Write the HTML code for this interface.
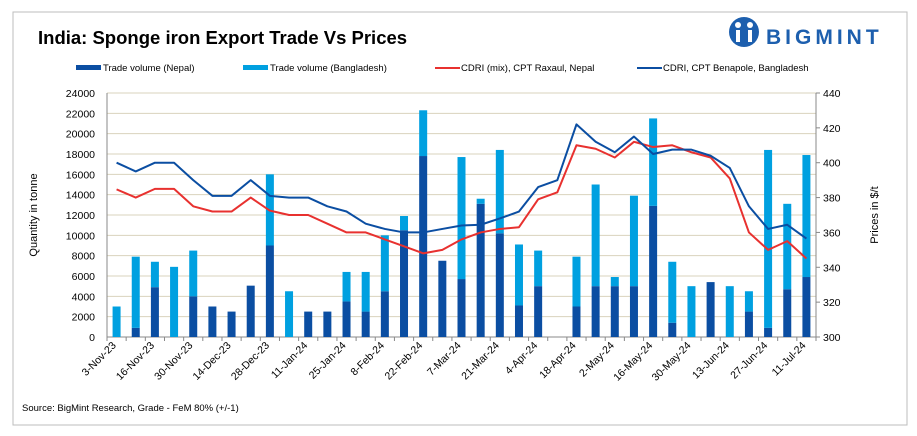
<!DOCTYPE html>
<html><head><meta charset="utf-8">
<style>
body{margin:0;background:#fff;font-family:"Liberation Sans",sans-serif;}
#wrap{position:relative;width:917px;height:436px;overflow:hidden;}
</style></head>
<body>
<div id="wrap">
<svg id="chart" width="917" height="436" xmlns="http://www.w3.org/2000/svg">
<rect x="13" y="12" width="894" height="413" fill="#fff" stroke="#bdbdbd"/>
<text x="38" y="44" font-size="18.5" font-weight="bold" fill="#000">India: Sponge iron Export Trade Vs Prices</text>
<g>
<circle cx="744" cy="32" r="15" fill="#1d5fae"/>
<circle cx="738" cy="25" r="3" fill="#fff"/><circle cx="750" cy="25" r="3" fill="#fff"/>
<rect x="736" y="30" width="4" height="12" fill="#fff"/><rect x="748" y="30" width="4" height="12" fill="#fff"/>
<text x="766" y="44" font-size="21" font-weight="bold" fill="#1d5fae" letter-spacing="4">BIGMINT</text>
</g>
<g id="legend" font-size="9.5" fill="#000">
<g><rect x="76" y="65" width="25" height="5" fill="#0b4ea2"/><text x="103" y="71">Trade volume (Nepal)</text></g>
<g><rect x="243" y="65" width="25" height="5" fill="#00a0e0"/><text x="270" y="71">Trade volume (Bangladesh)</text></g>
<g><rect x="435" y="67" width="25" height="2" fill="#e8312f"/><text x="461" y="71">CDRI (mix), CPT Raxaul, Nepal</text></g>
<g><rect x="637" y="67" width="25" height="2" fill="#0b4ea2"/><text x="663" y="71">CDRI, CPT Benapole, Bangladesh</text></g>
</g>
<g id="grid"></g><g id="bars"></g><g id="lines"></g><g id="axes"></g>
<text transform="translate(37,215) rotate(-90)" text-anchor="middle" font-size="11">Quantity in tonne</text>
<text transform="translate(878,215) rotate(-90)" text-anchor="middle" font-size="11">Prices in $/t</text>
<text x="22" y="411" font-size="9.5">Source: BigMint Research, Grade - FeM 80% (+/-1)</text>
</svg>
</div>
<script>
const categories=["3-Nov-23","","16-Nov-23","","30-Nov-23","","14-Dec-23","","28-Dec-23","","11-Jan-24","","25-Jan-24","","8-Feb-24","","22-Feb-24","","7-Mar-24","","21-Mar-24","","4-Apr-24","","18-Apr-24","","2-May-24","","16-May-24","","30-May-24","","13-Jun-24","","27-Jun-24","","11-Jul-24"];
const nepal=[0,900,4900,0,4000,3000,2500,5050,9000,0,2500,2500,3500,2500,4500,10500,17800,7500,5700,13100,10200,3100,5000,0,3000,5000,5000,5000,12900,1400,0,5400,0,2500,900,4700,5900];
const bangladesh=[3000,7000,2500,6900,4500,0,0,0,7000,4500,0,0,2900,3900,5500,1400,4500,0,12000,500,8200,6000,3500,0,4900,10000,900,8900,8600,6000,5000,0,5000,2000,17500,8400,12000];
const raxaul=[384.7,380,385,385,375,372,372,380,372.5,370,370,365,360,360,356,352,348,350,356,360,362,363,379,383,410,408,403,412,409,410,406,403,391,360,350,355,345];
const benapole=[400,395,400,400,390,381,381,390,381,380,380,375,372,365,362,360,360,362,364,364.4,368,372,386,390,422,412,406,415,405,407.5,407.5,404,397,375,362,364.4,356.5];
const leftTicks=[0,2000,4000,6000,8000,10000,12000,14000,16000,18000,20000,22000,24000];
const rightTicks=[300,320,340,360,380,400,420,440];
const NS="http://www.w3.org/2000/svg";
const X0=107,X1=816,YT=93,YB=337;
const n=categories.length,step=(X1-X0)/n;
const xc=i=>X0+step*(i+0.5);
const yL=v=>YB-(v/24000)*(YB-YT);
const yR=v=>YB-((v-300)/140)*(YB-YT);
function mk(tag,attrs,parent){const e=document.createElementNS(NS,tag);for(const k in attrs)e.setAttribute(k,attrs[k]);parent.appendChild(e);return e;}
const grid=document.getElementById('grid'),axes=document.getElementById('axes'),bars=document.getElementById('bars'),lines=document.getElementById('lines');
leftTicks.forEach(t=>{
  const l=mk('line',{x1:X0,x2:X1,y1:yL(t),y2:yL(t),stroke:t===0?'#888':'#d9d3bd','stroke-width':1},grid);
  
  
  const tx=mk('text',{x:X0-12,y:yL(t)+4,'text-anchor':'end','font-size':10.5},axes);tx.textContent=t;
  
  
});
rightTicks.forEach(t=>{
  const tx=mk('text',{x:X1+7,y:yR(t)+4,'font-size':10.5},axes);tx.textContent=t;
  
  
  mk('line',{x1:X1,x2:X1+4,y1:yR(t),y2:yR(t),stroke:'#888'},axes);
});
mk('line',{x1:X0,x2:X0,y1:YT,y2:YB,stroke:'#888'},axes);
mk('line',{x1:X1,x2:X1,y1:YT,y2:YB,stroke:'#888'},axes);
for(let i=0;i<=n;i++){mk('line',{x1:X0+step*i,x2:X0+step*i,y1:YB,y2:YB+4,stroke:'#888'},axes);}
categories.forEach((c,i)=>{
  if(!c)return;
  const x=xc(i),y=YB+9;
  const tx=mk('text',{x:x,y:y,'text-anchor':'end','font-size':10.5,transform:`rotate(-45 ${x} ${y})`},axes);tx.textContent=c;
  
  
});
const bw=8;
categories.forEach((c,i)=>{
  const x=xc(i)-bw/2;
  if(nepal[i]>0){const r=mk('rect',{x:x,y:yL(nepal[i]),width:bw,height:YB-yL(nepal[i]),fill:'#0b4ea2'},bars);
    
    }
  if(bangladesh[i]>0){const top=nepal[i]+bangladesh[i];const r=mk('rect',{x:x,y:yL(top),width:bw,height:yL(nepal[i])-yL(top),fill:'#00a0e0'},bars);
    
    }
});
function line(data,color,name){
  const p=mk('polyline',{points:data.map((v,i)=>xc(i)+','+yR(v)).join(' '),fill:'none',stroke:color,'stroke-width':2,'stroke-linejoin':'round'},lines);
  
  
}
line(raxaul,'#e8312f','line-raxaul-price');
line(benapole,'#0b4ea2','line-benapole-price');
</script>
</body></html>
